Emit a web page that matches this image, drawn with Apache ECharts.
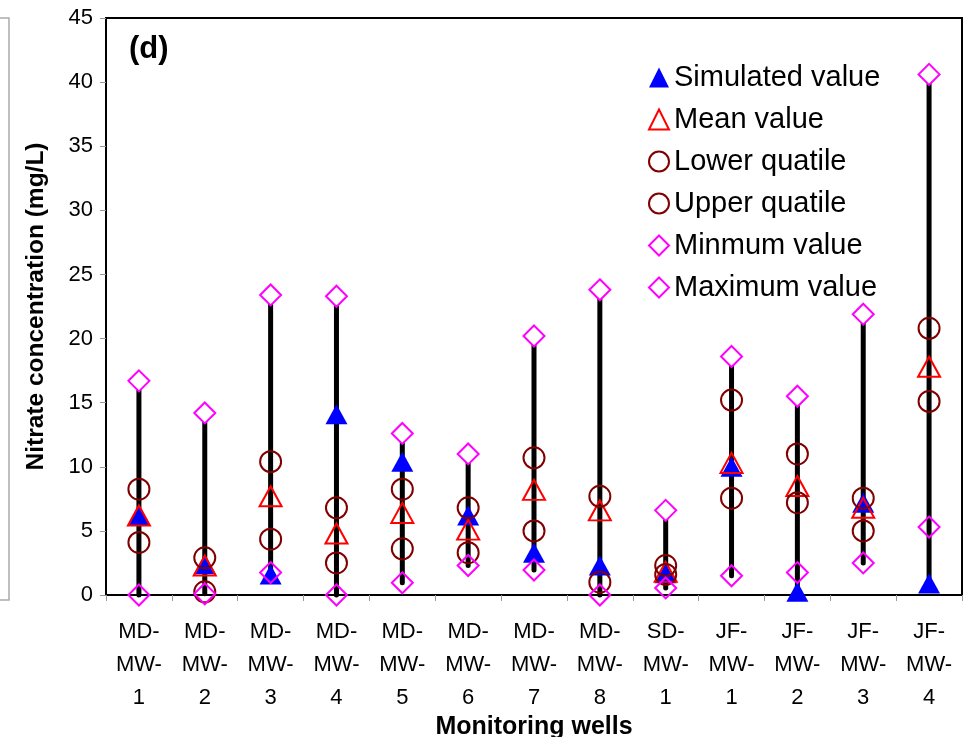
<!DOCTYPE html>
<html>
<head>
<meta charset="utf-8">
<script src="https://cdn.jsdelivr.net/npm/echarts@6/dist/echarts.min.js"></script>
<style>
  html, body { margin: 0; padding: 0; background: #fff; }
  #chart { width: 969px; height: 737px; }
</style>
</head>
<body>
<div id="chart"></div>
<script>
// monitoring wells (x axis)
var wells = ['MD-\nMW-\n1', 'MD-\nMW-\n2', 'MD-\nMW-\n3', 'MD-\nMW-\n4', 'MD-\nMW-\n5', 'MD-\nMW-\n6',
  'MD-\nMW-\n7', 'MD-\nMW-\n8', 'SD-\nMW-\n1', 'JF-\nMW-\n1', 'JF-\nMW-\n2', 'JF-\nMW-\n3', 'JF-\nMW-\n4'];

// nitrate concentration, mg/L
var simulated = [6.2, 2.4, 1.6, 14.1, 10.4, 6.2, 3.3, 2.3, 1.7, 10.0, 0.25, 7.2, 0.9];
var meanVal   = [6.2, 2.3, 7.7, 4.8, 6.4, 5.1, 8.2, 6.6, 1.8, 10.3, 8.5, 6.8, 17.8];
var lowerQ    = [4.1, 0.25, 4.35, 2.5, 3.6, 3.3, 5.0, 1.0, 1.6, 7.55, 7.2, 5.0, 15.1];
var upperQ    = [8.25, 2.9, 10.4, 6.8, 8.25, 6.8, 10.7, 7.7, 2.3, 15.2, 11.0, 7.55, 20.8];
var minVal    = [0.0, 0.1, 1.75, 0.0, 0.95, 2.3, 1.95, 0.0, 0.55, 1.5, 1.75, 2.5, 5.3];
var maxVal    = [16.7, 14.2, 23.4, 23.3, 12.6, 11.0, 20.2, 23.8, 6.6, 18.6, 15.5, 21.9, 40.6];

var yTicks = { min: 0, max: 45, interval: 5 };

// high-low line spans all values of a well
var hiLo = wells.map(function (w, i) {
  var vals = [simulated[i], meanVal[i], lowerQ[i], upperQ[i], minVal[i], maxVal[i]];
  return [i, Math.min.apply(null, vals), Math.max.apply(null, vals)];
});

var font = 'Liberation Sans, Arial, sans-serif';
var chart = echarts.init(document.getElementById('chart'));

function hollow(name, data, symbol, size, color, fill) {
  return {
    name: name,
    type: 'scatter',
    data: data,
    symbol: symbol,
    symbolSize: size,
    itemStyle: { color: fill || 'rgba(0,0,0,0)', borderColor: color, borderWidth: 2, opacity: 1 },
    z: 3
  };
}

chart.setOption({
  animation: false,
  textStyle: { fontFamily: font },
  grid: {
    left: 106, right: 7, top: 18, bottom: 142,
    outerBoundsMode: 'none',
    show: true, borderColor: '#000', borderWidth: 2
  },
  legend: {
    orient: 'vertical',
    left: 643, top: 58,
    itemWidth: 20, itemHeight: 20, itemGap: 13,
    textStyle: { fontSize: 29, color: '#000', fontFamily: font },
    data: ['Simulated value', 'Mean value', 'Lower quatile', 'Upper quatile', 'Minmum value', 'Maximum value']
  },
  xAxis: {
    type: 'category',
    data: wells,
    boundaryGap: true,
    name: 'Monitoring wells',
    nameLocation: 'middle',
    nameGap: 120,
    nameMoveOverlap: false,
    nameTextStyle: { fontSize: 25, fontWeight: 'bold', color: '#000' },
    axisLine: { lineStyle: { color: '#000', width: 2 } },
    axisTick: { show: true, length: 6, lineStyle: { color: '#999' } },
    axisLabel: { fontSize: 22, color: '#000', lineHeight: 33, margin: 20 }
  },
  yAxis: {
    type: 'value',
    min: yTicks.min, max: yTicks.max, interval: yTicks.interval,
    name: 'Nitrate concentration (mg/L)',
    nameLocation: 'middle',
    nameGap: 57,
    nameMoveOverlap: false,
    nameTextStyle: { fontSize: 24.5, fontWeight: 'bold', color: '#000' },
    splitLine: { show: false },
    axisLine: { show: true, lineStyle: { color: '#000', width: 2 } },
    axisTick: { show: true, length: 6, lineStyle: { color: '#999' } },
    axisLabel: { fontSize: 22, color: '#000', margin: 13 }
  },
  graphic: [
    {
      type: 'text', left: 129, top: 34, z: 10,
      style: { text: '(d)', font: 'bold 31px ' + font, fill: '#000' }
    },
    {
      type: 'rect', z: 0,
      shape: { x: -20, y: 18, width: 29, height: 582 },
      style: { fill: 'none', stroke: '#aaa', lineWidth: 1.5 }
    }
  ],
  series: [
    {
      type: 'custom',
      data: hiLo,
      z: 1,
      silent: true,
      renderItem: function (params, api) {
        var lo = api.coord([api.value(0), api.value(1)]);
        var hi = api.coord([api.value(0), api.value(2)]);
        return {
          type: 'line',
          shape: { x1: lo[0], y1: lo[1], x2: hi[0], y2: hi[1] },
          style: { stroke: '#000', lineWidth: 5, lineCap: 'round' }
        };
      }
    },
    {
      name: 'Simulated value', type: 'scatter', data: simulated,
      symbol: 'triangle', symbolSize: [22, 20],
      itemStyle: { color: '#0000ff', opacity: 1 }, z: 3
    },
    hollow('Mean value', meanVal, 'triangle', [22, 20], '#ff0000'),
    hollow('Lower quatile', lowerQ, 'circle', 21, '#800000'),
    hollow('Upper quatile', upperQ, 'circle', 21, '#800000'),
    hollow('Minmum value', minVal, 'diamond', [21, 21], '#ff00ff'),
    hollow('Maximum value', maxVal, 'diamond', [21, 21], '#ff00ff', '#fff')
  ]
});
</script>
</body>
</html>
